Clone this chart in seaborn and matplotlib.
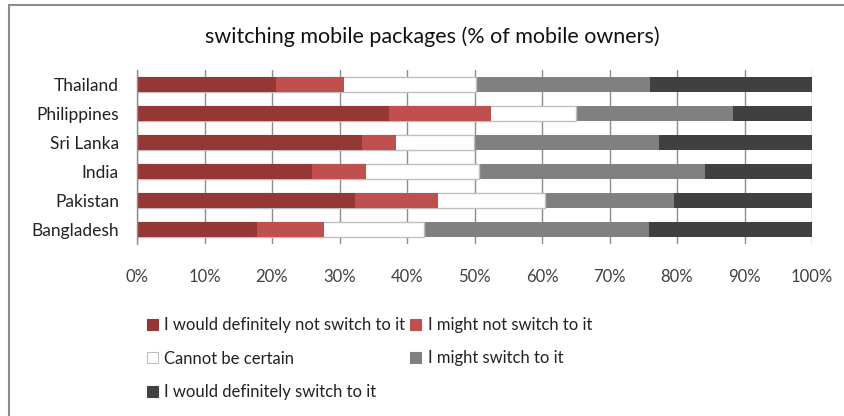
import numpy as np
import pandas as pd
import matplotlib
matplotlib.use("Agg")
import matplotlib.pyplot as plt
from matplotlib.lines import Line2D
from matplotlib.patches import Patch
import seaborn as sns

countries = ["Thailand", "Philippines", "Sri Lanka", "India", "Pakistan", "Bangladesh"]
series_names = [
    "I would definitely not switch to it",
    "I might not switch to it",
    "Cannot be certain",
    "I might switch to it",
    "I would definitely switch to it",
]
def_not_switch = [20.6, 37.3, 33.3, 25.9, 32.3, 17.8]
might_not_switch = [10.1, 15.2, 5.0, 8.0, 12.3, 9.9]
cannot_be_certain = [19.5, 12.5, 11.6, 16.7, 15.8, 14.8]
might_switch = [25.8, 23.3, 27.4, 33.5, 19.2, 33.4]
def_switch = [24.0, 11.7, 22.7, 15.9, 20.4, 24.1]
tick_labels = ["0%", "10%", "20%", "30%", "40%", "50%", "60%", "70%", "80%", "90%", "100%"]

colors = ["#953735", "#C0504D", "#FFFFFF", "#808080", "#404040"]
edges = ["none", "none", "#BFBFBF", "none", "none"]

sns.set_theme(style="white")
plt.rcParams["font.family"] = ["Lato", "DejaVu Sans"]

series = [def_not_switch, might_not_switch, cannot_be_certain, might_switch, def_switch]
df = pd.DataFrame({"country": countries})
running = np.zeros(len(countries))
for name, vals in zip(series_names, series):
    running = running + np.array(vals)
    df[name] = running

fig = plt.figure(figsize=(8.44, 4.16), dpi=100)
ax = fig.add_axes([137 / 844, 1 - 244 / 416, 675 / 844, 174 / 416])

# stacked bars: draw cumulative totals from the outermost segment inward
for i in reversed(range(len(series_names))):
    sns.barplot(data=df, x=series_names[i], y="country", order=countries,
                color=colors[i], saturation=1, width=0.55,
                edgecolor=edges[i], linewidth=1.0 if edges[i] != "none" else 0,
                ax=ax, zorder=2)

ax.set_xlim(0, 100)
ax.set_ylim(5.5, -0.5)
ax.set_xticks(np.arange(0, 101, 10))
ax.set_xticklabels(tick_labels)
ax.set_xlabel("")
ax.set_ylabel("")
ax.grid(axis="x", color="#8C8C8C", linewidth=1.0, zorder=0)
ax.set_axisbelow(True)
for s in ["top", "right", "bottom"]:
    ax.spines[s].set_visible(False)
ax.spines["left"].set_color("#8C8C8C")
ax.spines["left"].set_linewidth(1.0)
ax.tick_params(axis="x", length=0, pad=18, labelsize=12, labelcolor="#404040")
ax.tick_params(axis="y", length=0, pad=13, labelsize=12.5, labelcolor="#222222")

fig.text(432 / 844, 1 - 37 / 416, "switching mobile packages (% of mobile owners)",
         ha="center", va="center", fontsize=15.5, color="#111111")

handles = [Patch(facecolor=c, edgecolor=(e if e != "none" else c), linewidth=0.8)
           for c, e in zip(colors, edges)]
order = [0, 2, 4, 1, 3]
leg = fig.legend([handles[k] for k in order], [series_names[k] for k in order],
                 ncol=2, frameon=False, loc="upper left",
                 bbox_to_anchor=(147 / 844, 1 - 317 / 416),
                 fontsize=12, handlelength=0.65, handleheight=0.65,
                 handletextpad=0.4, columnspacing=0.3, labelspacing=1.05,
                 borderaxespad=0, borderpad=0)
for t in leg.get_texts():
    t.set_color("#222222")

# outer chart frame
fig.add_artist(Line2D([9 / 844, 9 / 844], [0, 1 - 5 / 416], color="#8C8C8C", linewidth=1.5))
fig.add_artist(Line2D([9 / 844, 1], [1 - 5 / 416, 1 - 5 / 416], color="#8C8C8C", linewidth=1.5))

fig.savefig("out.png", dpi=100, facecolor="white")
